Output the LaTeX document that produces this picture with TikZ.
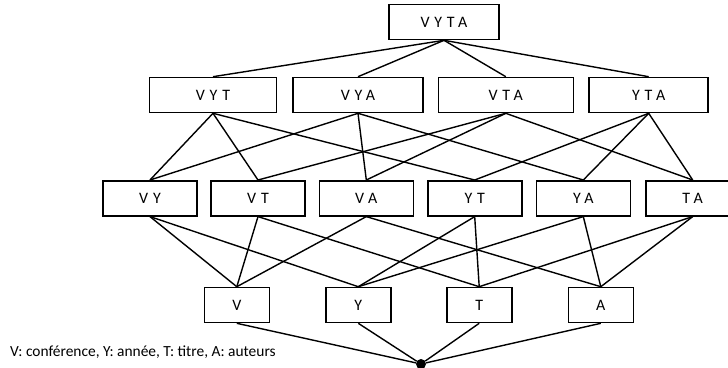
\documentclass[tikz,border=0pt]{standalone}
\usepackage{fontspec}
\setmainfont{Carlito}
\newfontfamily\labelfont{Carlito}[LetterSpace=30]
\begin{document}
\begin{tikzpicture}[x=1bp,y=-1bp,
  attr/.style={draw,line width=1.6bp,minimum height=35bp,inner sep=0pt,
               font=\labelfont\fontsize{16}{18}\selectfont},
  link/.style={line width=1.4bp}]
\useasboundingbox (0,0) rectangle (728,367);

% top element
\node[attr,minimum width=110bp] (vyta) at (444,22) {VYTA};

% three attributes
\node[attr,minimum width=127bp] (vyt) at (213,95) {VYT};
\node[attr,minimum width=130bp] (vya) at (358,95) {VYA};
\node[attr,minimum width=135bp] (vta) at (505.8,95) {VTA};
\node[attr,minimum width=119bp] (yta) at (648.7,95) {YTA};

% two attributes
\node[attr,minimum width=94bp] (vy) at (150,198.3) {VY};
\node[attr,minimum width=94bp] (vt) at (258,198.3) {VT};
\node[attr,minimum width=94bp] (va) at (366.3,198.3) {VA};
\node[attr,minimum width=94bp] (yt) at (474.7,198.3) {YT};
\node[attr,minimum width=94bp] (ya) at (583.3,198.3) {YA};
\node[attr,minimum width=94bp] (ta) at (692.7,198.3) {TA};

% single attributes
\node[attr,minimum width=65bp] (v) at (236.8,305) {V};
\node[attr,minimum width=65bp] (y) at (358.3,305) {Y};
\node[attr,minimum width=65bp] (t) at (479.2,305) {T};
\node[attr,minimum width=65bp] (a) at (600.8,305) {A};

% empty set
\node[circle,fill,inner sep=0pt,minimum size=10bp] (bot) at (421,364) {};

% legend
\node[anchor=base west,inner sep=0pt,font=\fontsize{15.5}{18}\selectfont] (legend) at (10,356)
  {V: conférence, Y: année, T: titre, A: auteurs};

% edges of the lattice
\foreach \u in {vyt,vya,vta,yta} \draw[link] (vyta.south) -- (\u.north);
\foreach \u/\w in {vyt/vy,vyt/vt,vyt/yt,vya/vy,vya/va,vya/ya,
                   vta/vt,vta/va,vta/ta,yta/yt,yta/ya,yta/ta}
  \draw[link] (\u.south) -- (\w.north);
\foreach \u/\w in {vy/v,vy/y,vt/v,vt/t,va/v,va/a,yt/y,yt/t,ya/y,ya/a,ta/t,ta/a}
  \draw[link] (\u.south) -- (\w.north);
\foreach \u in {v,y,t,a} \draw[link] (\u.south) -- (bot);
\end{tikzpicture}
\end{document}
